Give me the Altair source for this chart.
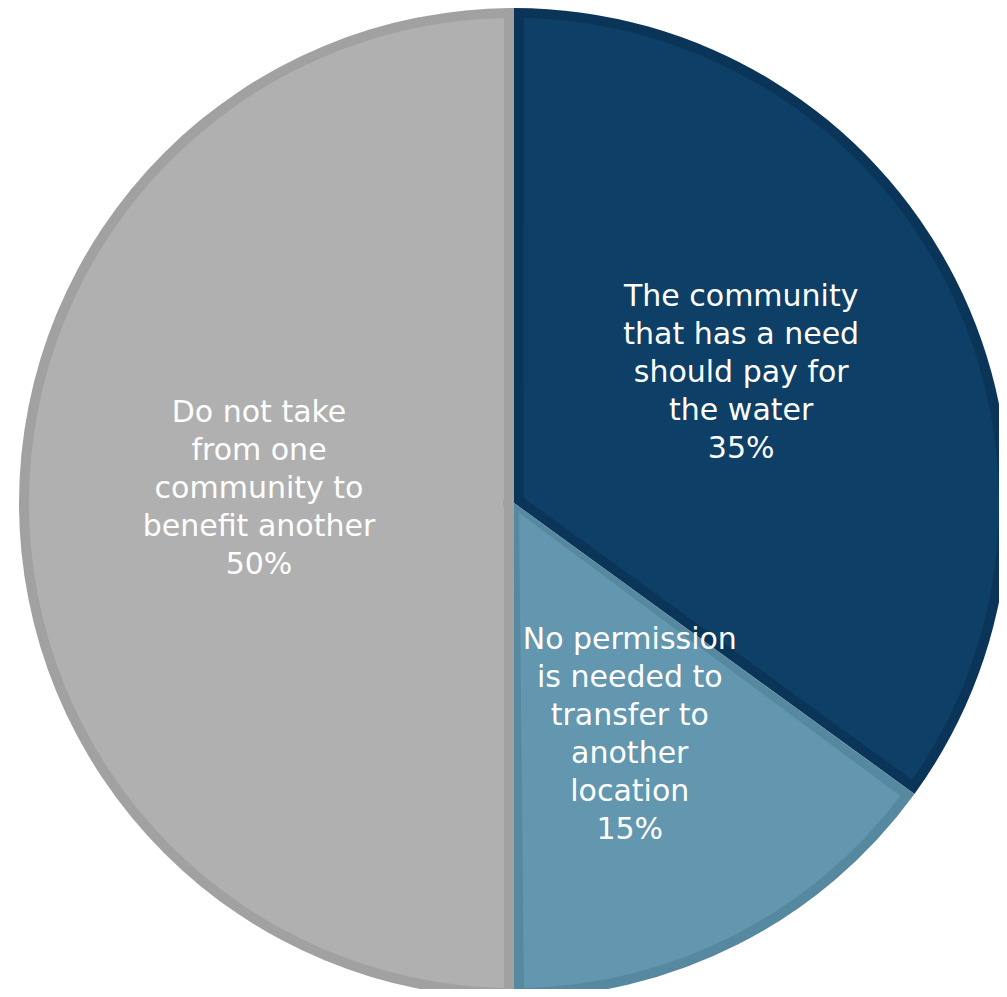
import altair as alt
import pandas as pd

categories = [
    "The community that has a need should pay for the water",
    "No permission is needed to transfer to another location",
    "Do not take from one community to benefit another",
]
values = [35, 15, 50]
label_lines = [
    ["The community", "that has a need", "should pay for", "the water", "35%"],
    ["No permission", "is needed to", "transfer to", "another", "location", "15%"],
    ["Do not take", "from one", "community to", "benefit another", "50%"],
]
fill_colors = ["#0E3F66", "#6297AF", "#B0B0B0"]
border_colors = ["#0A3558", "#5688A0", "#A1A1A1"]

df = pd.DataFrame({
    "category": categories,
    "value": values,
    "idx": list(range(len(categories))),
    "label": ["\n".join(l) for l in label_lines],
})

R = 495
border = 10
inner_r = R - border
pad = 2 * border / inner_r

base = alt.Chart(df).encode(
    theta=alt.Theta("value:Q", stack=True),
    order=alt.Order("idx:Q"),
    x=alt.value(506),
    y=alt.value(495),
)

under = base.mark_arc(outerRadius=R).encode(
    color=alt.Color("category:N", scale=alt.Scale(domain=categories, range=border_colors), legend=None)
)
over = base.mark_arc(outerRadius=inner_r, innerRadius=border + 1, padAngle=pad).encode(
    color=alt.Color("category:N", scale=alt.Scale(domain=categories, range=fill_colors), legend=None)
)
text = base.mark_text(
    radius=255, dy=-90, fontSize=30, font="DejaVu Sans", color="white", lineHeight=38,
    lineBreak="\n", align="center", baseline="middle"
).encode(text="label:N")

chart = alt.layer(under, over, text).resolve_scale(color="independent").properties(
    width=991, height=981, padding=0, autosize=alt.AutoSizeParams(type="none")
).configure_view(stroke=None)

chart.save("out.html", embed_options={"renderer": "svg", "actions": False})
